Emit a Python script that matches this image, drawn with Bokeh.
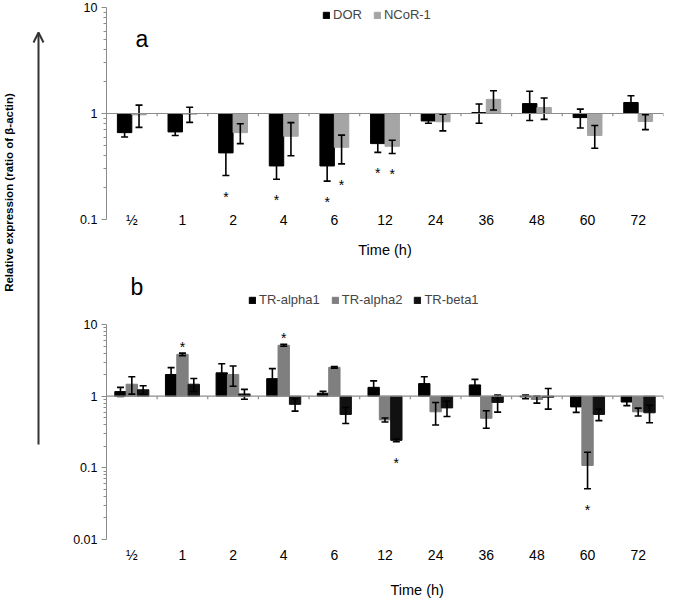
import math
from bokeh.plotting import figure
from bokeh.models import (FactorRange, Range1d, FixedTicker, CustomJSTickFormatter, Span,
                          Legend, LegendItem, Label, Arrow, OpenHead, ColumnDataSource)
from bokeh.transform import dodge
from bokeh.layouts import row, column
from bokeh.embed import file_html
from bokeh.resources import INLINE

FONT = "Liberation Sans"

# ---------------- data ----------------
categories = ["½", "1", "2", "4", "6", "12", "24", "36", "48", "60", "72"]

# panel a
dor = [0.66, 0.67, 0.425, 0.32, 0.32, 0.52, 0.85, 1.02, 1.24, 0.915, 1.27]
dor_err = [0.06, 0.05, 0.165, 0.08, 0.09, 0.09, 0.04, 0.21, 0.38, 0.185, 0.2]
ncor = [0.97, 0.985, 0.66, 0.61, 0.48, 0.49, 0.835, 1.36, 1.14, 0.62, 0.84]
ncor_err = [0.23, 0.16, 0.14, 0.21, 0.145, 0.07, 0.15, 0.28, 0.26, 0.15, 0.135]

# panel b
tra1 = [1.16, 2.01, 2.12, 1.76, 1.10, 1.33, 1.50, 1.44, 0.98, 0.71, 0.83]
tra1_err = [0.17, 0.5, 0.72, 0.67, 0.07, 0.31, 0.37, 0.28, 0.06, 0.115, 0.09]
tra2 = [1.47, 3.84, 2.01, 5.14, 2.53, 0.467, 0.606, 0.492, 0.90, 0.108, 0.606]
tra2_err = [0.40, 0.15, 0.63, 0.15, 0.06, 0.03, 0.21, 0.135, 0.10, 0.057, 0.077]
trb1 = [1.23, 1.47, 1.076, 0.77, 0.557, 0.242, 0.687, 0.82, 0.97, 0.557, 0.587]
trb1_err = [0.17, 0.3, 0.17, 0.15, 0.14, 0.01, 0.165, 0.22, 0.31, 0.1, 0.16]

# significance markers: (category, series, side)
stars_a = [("2", "DOR", "below"), ("4", "DOR", "below"), ("6", "DOR", "below"),
           ("6", "NCoR-1", "below"), ("12", "DOR", "below"), ("12", "NCoR-1", "below")]
stars_b = [("1", "TR-alpha2", "above"), ("4", "TR-alpha2", "above"),
           ("12", "TR-beta1", "below"), ("60", "TR-alpha2", "below")]

AXIS_GRAY = "#8c8c8c"


def make_panel(series, width, height, y_lo, y_hi, ticks, minor, bar_w, border, x_standoff,
               stars, tick_low, xlabel):
    p = figure(width=width, height=height, x_range=FactorRange(factors=categories, range_padding=0),
               y_range=Range1d(y_lo, y_hi), y_axis_type="log", output_backend="svg",
               toolbar_location=None, min_border_left=border[0], min_border_right=border[1],
               min_border_top=border[2], min_border_bottom=border[3])
    p.xgrid.visible = False
    p.ygrid.visible = False
    p.outline_line_color = None
    yax = p.yaxis[0]
    yax.bounds = (ticks[0], ticks[-1])
    yax.ticker = FixedTicker(ticks=ticks, minor_ticks=minor)
    yax.formatter = CustomJSTickFormatter(code="return tick.toString();")
    yax.axis_line_color = AXIS_GRAY
    yax.major_tick_line_color = AXIS_GRAY
    yax.minor_tick_line_color = AXIS_GRAY
    yax.major_tick_out = 5
    yax.major_tick_in = 0
    yax.minor_tick_out = 3
    yax.minor_tick_in = 0
    yax.major_label_standoff = 4
    yax.major_label_text_font = FONT
    yax.major_label_text_font_size = "12.5px"
    yax.major_label_text_color = "#000000"
    xax = p.xaxis[0]
    xax.axis_line_color = None
    xax.major_tick_line_color = None
    xax.major_tick_out = 0
    xax.major_tick_in = 0
    xax.major_label_standoff = x_standoff
    xax.major_label_text_font = FONT
    xax.major_label_text_font_size = "14px"
    xax.major_label_text_color = "#000000"
    xax.axis_label = xlabel
    xax.axis_label_text_font = FONT
    xax.axis_label_text_font_size = "14.5px"
    xax.axis_label_text_font_style = "normal"
    xax.axis_label_text_color = "#000000"

    n = len(series)
    items = []
    info = {}
    for i, (name, vals, errs, color) in enumerate(series):
        off = (i - (n - 1) / 2) * bar_w
        lo = [v - e for v, e in zip(vals, errs)]
        hi = [v + e for v, e in zip(vals, errs)]
        src = ColumnDataSource(dict(cat=categories, top=vals, lo=lo, hi=hi))
        xd = dodge("cat", off, range=p.x_range)
        r = p.vbar(x=xd, top="top", bottom=1, width=bar_w, fill_color=color, line_color=color,
                   source=src)
        p.segment(x0=xd, x1=xd, y0="lo", y1="hi", line_color="black", line_width=1.6, source=src)
        p.scatter(x=xd, y="lo", marker="dash", size=7, line_color="black", line_width=1.6, source=src)
        p.scatter(x=xd, y="hi", marker="dash", size=7, line_color="black", line_width=1.6, source=src)
        items.append(LegendItem(label=name, renderers=[r]))
        info[name] = (off, dict(zip(categories, lo)), dict(zip(categories, hi)))

    # baseline at 1 with category boundary ticks
    p.add_layout(Span(location=1, dimension="width", line_color=AXIS_GRAY, line_width=1.2))
    tsrc = ColumnDataSource(dict(cat=categories, y0=[1] * len(categories),
                                 y1=[tick_low] * len(categories)))
    xb = dodge("cat", 0.5, range=p.x_range)
    p.segment(x0=xb, x1=xb, y0="y0", y1="y1", line_color=AXIS_GRAY, line_width=1.2, source=tsrc)

    # significance stars, placed a fixed pixel distance beyond the error bar end
    for cat, name, side in stars:
        off, lod, hid = info[name]
        yv = lod[cat] if side == "below" else hid[cat]
        ssrc = ColumnDataSource(dict(cat=[cat], y=[yv], t=["*"]))
        p.text(x=dodge("cat", off, range=p.x_range), y="y", text="t", source=ssrc,
               text_font_size="14px", text_align="center", text_baseline="alphabetic",
               y_offset=(21 if side == "below" else -6), text_color="black")
    return p, items


# panel b frame extends above 10 so that its letter and legend sit inside it
DEC_B = 72.7          # pixels per decade in panel b
EXTRA_B = 63          # pixels of frame above the 10 tick
pa, items_a = make_panel(
    [("DOR", dor, dor_err, "#000000"), ("NCoR-1", ncor, ncor_err, "#a5a5a5")],
    width=611, height=260, y_lo=0.1, y_hi=10, ticks=[0.1, 1, 10],
    minor=[0.2, 0.3, 0.4, 0.5, 0.6, 0.7, 0.8, 0.9, 2, 3, 4, 5, 6, 7, 8, 9],
    bar_w=0.285, border=(40, 0, 7, 41), x_standoff=-8, stars=stars_a, tick_low=0.94,
    xlabel="Time (h)")
pa.xaxis[0].axis_label_standoff = 11

NBSP = "\u00a0"
pb, items_b = make_panel(
    [("TR-alpha1", tra1, tra1_err, "#000000"), ("TR-alpha2", tra2, tra2_err, "#7f7f7f"),
     ("TR-beta1", trb1, trb1_err, "#111111")],
    width=611, height=340, y_lo=0.01, y_hi=10 ** (1 + EXTRA_B / DEC_B),
    ticks=[0.01, 0.1, 1, 10],
    minor=[0.02, 0.03, 0.04, 0.05, 0.06, 0.07, 0.08, 0.09, 0.2, 0.3, 0.4, 0.5, 0.6, 0.7, 0.8, 0.9,
           2, 3, 4, 5, 6, 7, 8, 9],
    bar_w=0.224, border=(40, 14, 2, 57), x_standoff=7, stars=stars_b, tick_low=0.91,
    xlabel=NBSP * 16 + "Time (h)")
pb.xaxis[0].axis_label_standoff = 16

for p, items, loc in ((pa, items_a, (216, 197)), (pb, items_b, (142, 232))):
    leg = Legend(items=items, orientation="horizontal", location=loc, padding=0, margin=0,
                 spacing=11, glyph_width=8, glyph_height=8, label_standoff=3, label_height=12,
                 label_text_font=FONT, label_text_font_size="13px", border_line_color=None,
                 background_fill_alpha=0)
    p.add_layout(leg)

pa.add_layout(Label(x=29, y=181, x_units="screen", y_units="screen", text="a",
                    text_baseline="alphabetic",
                    text_font=FONT, text_font_size="23px", text_color="black"))
pb.add_layout(Label(x=24, y=253, x_units="screen", y_units="screen", text="b",
                    text_baseline="alphabetic",
                    text_font=FONT, text_font_size="23px", text_color="black"))

# left strip with arrow and y title
left = figure(width=66, height=600, x_range=Range1d(0, 66), y_range=Range1d(0, 600),
              x_axis_location=None, y_axis_location=None, min_border=0,
              toolbar_location=None, output_backend="svg")
left.xgrid.visible = False
left.ygrid.visible = False
left.outline_line_color = None
left.add_layout(Arrow(end=OpenHead(size=10, line_width=2, line_color="#333333"),
                      x_start=38, y_start=156, x_end=38, y_end=568,
                      line_width=2, line_color="#333333"))
left.add_layout(Label(x=8, y=408, text="Relative expression (ratio of β-actin)",
                      angle=math.pi / 2, text_align="center", text_baseline="middle",
                      text_font=FONT, text_font_size="11.5px", text_font_style="bold",
                      text_color="black"))

layout = row(left, column(pa, pb))
open("out.html", "w").write(file_html(layout, INLINE))
